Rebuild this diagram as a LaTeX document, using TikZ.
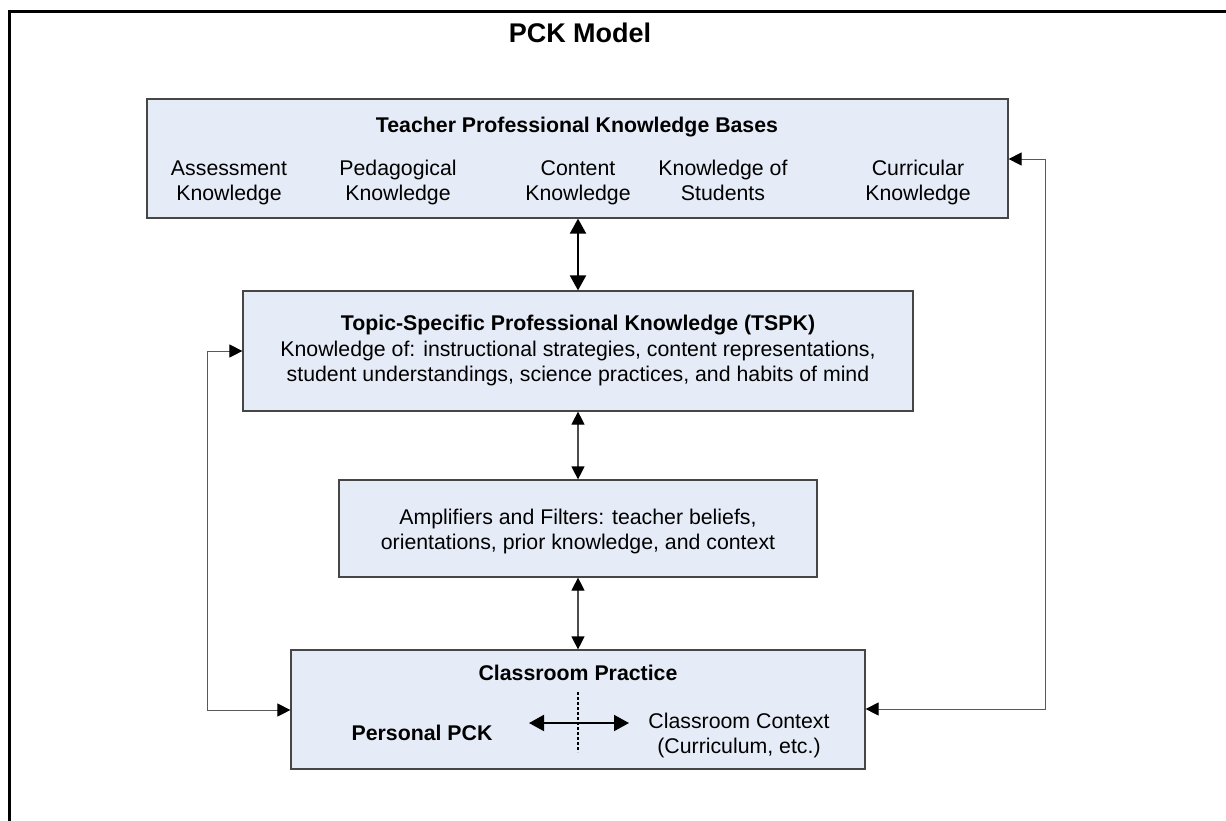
\documentclass[tikz,border=0pt]{standalone}
\usepackage{fontspec}
\setmainfont{Liberation Sans}
\usetikzlibrary{arrows.meta}
\definecolor{boxfill}{RGB}{230,236,247}
\definecolor{boxline}{RGB}{70,70,70}
\tikzset{
  box/.style={draw=boxline, line width=1.2pt, fill=boxfill, inner sep=0pt},
  txt/.style={inner sep=0pt, align=center, font=\fontsize{21.3}{25}\selectfont,
    execute at begin node={\vphantom{Akg}}, execute at end node={\vphantom{Akg}}},
  btxt/.style={inner sep=0pt, align=center, font=\fontsize{21.3}{25}\selectfont\bfseries},
  tip/.style={-{Triangle[length=13pt,width=13pt,color=black]}},
  dtip/.style={{Triangle[length=13pt,width=13pt,color=black]}-{Triangle[length=13pt,width=13pt,color=black]}},
  btip/.style={{Triangle[length=15pt,width=16pt,color=black]}-{Triangle[length=15pt,width=16pt,color=black]}},
  elbow/.style={draw=black!65, line width=1pt, tip},
}
\begin{document}
\begin{tikzpicture}[x=1pt,y=-1pt]
\useasboundingbox (0,0) rectangle (1226,820);
% outer frame
\draw[line width=3pt] (9,822) -- (9,11) -- (1228,11);
\node[inner sep=0pt, font=\fontsize{27}{30}\selectfont\bfseries] (title) at (580,33) {PCK Model};

% boxes
\node[box, minimum width=861pt, minimum height=119pt] (tpkb) at (577.5,158.5) {};
\node[box, minimum width=670pt, minimum height=120pt] (tspk) at (578,351) {};
\node[box, minimum width=478pt, minimum height=97pt] (amp) at (578,528.5) {};
\node[box, minimum width=574pt, minimum height=119pt] (cp) at (578,709.5) {};

% top box text
\node[btxt] (tpkbt) at (577,127) {Teacher Professional Knowledge Bases};
\node[txt] (ak) at (229,182.5) {Assessment\\Knowledge};
\node[txt] (pk) at (398,182.5) {Pedagogical\\Knowledge};
\node[txt] (ck) at (578,182.5) {Content\\Knowledge};
\node[txt] (ks) at (723,182.5) {Knowledge of\\Students};
\node[txt] (cuk) at (918,182.5) {Curricular\\Knowledge};

% TSPK text
\node[btxt] (tspkt) at (578,325) {Topic-Specific Professional Knowledge (TSPK)};
\node[txt] (tspkb) at (578,363) {Knowledge of: instructional strategies, content representations,\\student understandings, science practices, and habits of mind};

% amplifiers text
\node[txt] (ampt) at (578,531) {Amplifiers and Filters: teacher beliefs,\\orientations, prior knowledge, and context};

% classroom text
\node[btxt] (cpt) at (578,673) {Classroom Practice};
\node[btxt] (ppck) at (422,733) {Personal PCK};
\node[txt] (cctx) at (739,735) {Classroom Context\\(Curriculum, etc.)};
\coordinate (hl) at (529,723);
\coordinate (hr) at (629,723);
\coordinate (dt) at (578,692);
\coordinate (db) at (578,752);
\draw[btip, line width=2pt] (hl) -- (hr);
\draw[dash pattern=on 3pt off 2pt, line width=1.2pt] (dt) -- (db);

% vertical arrows
\draw[btip, line width=2pt] (tpkb.south -| ck) -- (tspk.north -| ck);
\draw[dtip, draw=black!70, line width=1.2pt] (tspk.south) -- (amp.north);
\draw[dtip, draw=black!70, line width=1.2pt] (amp.south) -- (cp.north);

% elbow connectors
\coordinate (lc1) at (207,710);
\coordinate (lc2) at (207,351);
\draw[elbow] (lc2) -- (lc1) -- (cp.west |- lc1);
\draw[elbow] (lc1) -- (lc2) -- (tspk.west |- lc2);
\coordinate (rc1) at (1045,709);
\coordinate (rc2) at (1045,159);
\draw[elbow] (rc2) -- (rc1) -- (cp.east |- rc1);
\draw[elbow] (rc1) -- (rc2) -- (tpkb.east |- rc2);
\end{tikzpicture}
\end{document}
